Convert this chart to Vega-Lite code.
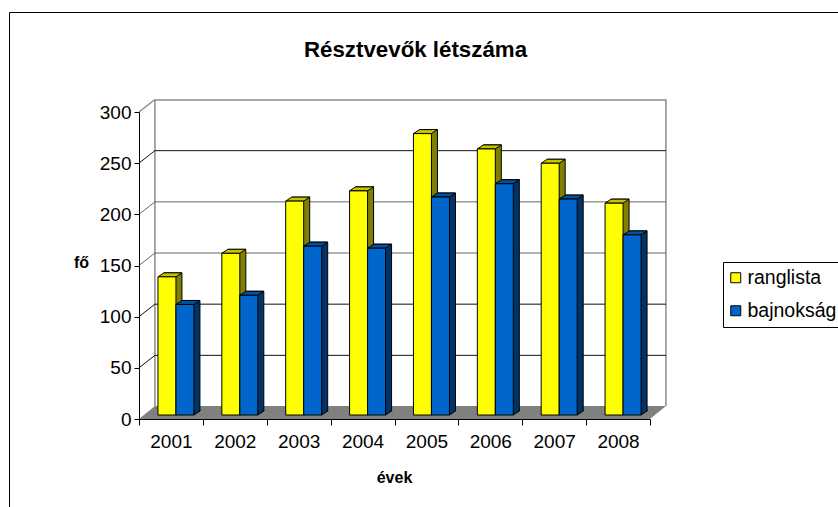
{
"$schema":"https://vega.github.io/schema/vega-lite/v6.json",
"width":829,"height":495,
"padding":{"left":9,"top":12,"right":0,"bottom":0},
"autosize":{"type":"none"},
"background":"white",
"view":{"stroke":"black","strokeWidth":1,"fill":"white"},
"title":{"text":"Résztvevők létszáma","font":"Liberation Sans","fontSize":22.3,"fontWeight":"bold","color":"black","anchor":"middle","dx":-8,"offset":-49},
"datasets":{
"bars":[
{"year":"2001","series":"ranglista","v":135},{"year":"2002","series":"ranglista","v":158},{"year":"2003","series":"ranglista","v":209},{"year":"2004","series":"ranglista","v":219},{"year":"2005","series":"ranglista","v":275},{"year":"2006","series":"ranglista","v":260},{"year":"2007","series":"ranglista","v":246},{"year":"2008","series":"ranglista","v":207},
{"year":"2001","series":"bajnokság","v":108},{"year":"2002","series":"bajnokság","v":117},{"year":"2003","series":"bajnokság","v":165},{"year":"2004","series":"bajnokság","v":163},{"year":"2005","series":"bajnokság","v":213},{"year":"2006","series":"bajnokság","v":226},{"year":"2007","series":"bajnokság","v":211},{"year":"2008","series":"bajnokság","v":176}
],
"grid":[{"year":"2001","v":50},{"year":"2001","v":100},{"year":"2001","v":150},{"year":"2001","v":200},{"year":"2001","v":250},{"year":"2001","v":300}],
"floor":[{"year":"2001","v":0}]
},
"data":{"name":"bars"},
"encoding":{
"x":{"field":"year","type":"nominal","scale":{"type":"band","domain":["2001","2002","2003","2004","2005","2006","2007","2008"],"range":[130,641],"paddingInner":0,"paddingOuter":0},
"axis":{"title":"évek","titleFont":"Liberation Sans","titleFontSize":16,"titleFontWeight":"bold","titleColor":"black","titleX":385,"titleY":58,"titleBaseline":"middle","labelFont":"Liberation Sans","labelFontSize":19,"labelColor":"black","labelAngle":0,"labelPadding":7,"domainColor":"black","tickColor":"black","tickSize":6,"tickBand":"extent","offset":-88,"zindex":1,"grid":false}},
"y":{"field":"v","type":"quantitative","stack":null,"scale":{"domain":[0,300],"range":[407,100],"nice":false},
"axis":{"title":"fő","titleFont":"Liberation Sans","titleFontSize":16,"titleFontWeight":"bold","titleColor":"black","titleAngle":0,"titleX":-58,"titleY":250,"titleAlign":"center","titleBaseline":"middle","labelFont":"Liberation Sans","labelFontSize":19,"labelColor":"black","labelPadding":3,"values":[0,50,100,150,200,250,300],"domainColor":"black","tickColor":"black","tickSize":5,"offset":-130,"zindex":1,"grid":false}}
},
"layer":[
{"data":{"name":"floor"},"mark":{"type":"point","shape":"M-32 0 L-16 -13 H495 L479 0 Z","size":4,"filled":true,"fill":"#808080","stroke":"#808080","strokeWidth":0,"opacity":1}},
{"data":{"name":"floor"},"mark":{"type":"point","shape":"M-16 -13 V-319 H495 V-13","size":4,"filled":false,"fill":"transparent","stroke":"#8c8c8c","strokeWidth":1.5,"opacity":1}},
{"data":{"name":"grid"},"transform":[{"filter":"datum.v<300"}],"mark":{"type":"point","shape":"M-32 0 L-16 -12.5 H495","size":4,"filled":false,"fill":"transparent","strokeWidth":1,"opacity":1},
 "encoding":{"stroke":{"condition":{"test":"datum.v==150||datum.v==200","value":"#666666"},"value":"#111111"}}},
{"data":{"name":"grid"},"transform":[{"filter":"datum.v==300"}],"mark":{"type":"point","shape":"M-32 0 L-16 -12.5","size":4,"filled":false,"fill":"transparent","stroke":"#8c8c8c","strokeWidth":1.5,"opacity":1}},

{"transform":[{"filter":"datum.series=='ranglista'"}],"mark":{"type":"bar","width":18,"xOffset":2,"yOffset":-8,"y2Offset":-8,"fill":"#808000","stroke":"black","strokeWidth":1},"encoding":{"y2":{"datum":0}}},
{"transform":[{"filter":"datum.series=='ranglista'"}],"mark":{"type":"point","shape":"M5 -9 L5 -4 L11 -8 L11 -9","size":4,"filled":true,"fill":"#808000","stroke":"black","strokeWidth":1,"opacity":1},"encoding":{"y":{"datum":0}}},
{"transform":[{"filter":"datum.series=='ranglista'"}],"mark":{"type":"point","shape":"M-13 -4 H5 L11 -8 H-7 Z","size":4,"filled":true,"fill":"#c4c400","stroke":"black","strokeWidth":1,"opacity":1}},
{"transform":[{"filter":"datum.series=='ranglista'"}],"mark":{"type":"bar","width":18,"xOffset":-4,"yOffset":-4,"y2Offset":-4,"stroke":"black","strokeWidth":1},
 "encoding":{"y2":{"datum":0},"color":{"field":"series","type":"nominal","scale":{"domain":["ranglista","bajnokság"],"range":["#ffff00","#0066cc"]},
 "legend":{"title":null,"orient":"none","legendX":714,"legendY":250,"padding":6,"strokeColor":"black","fillColor":"white","symbolType":"square","symbolSize":100,"symbolStrokeColor":"black","symbolStrokeWidth":1,"symbolOffset":-3,"labelFont":"Liberation Sans","labelFontSize":19.5,"labelColor":"black","rowPadding":12,"labelOffset":2,"labelLimit":300}}}},

{"transform":[{"filter":"datum.series=='bajnokság'"}],"mark":{"type":"bar","width":18,"xOffset":20,"yOffset":-8,"y2Offset":-8,"fill":"#003366","stroke":"black","strokeWidth":1},"encoding":{"y2":{"datum":0}}},
{"transform":[{"filter":"datum.series=='bajnokság'"}],"mark":{"type":"point","shape":"M23 -9 L23 -4 L29 -8 L29 -9","size":4,"filled":true,"fill":"#003366","stroke":"black","strokeWidth":1,"opacity":1},"encoding":{"y":{"datum":0}}},
{"transform":[{"filter":"datum.series=='bajnokság'"}],"mark":{"type":"point","shape":"M5 -4 H23 L29 -8 H11 Z","size":4,"filled":true,"fill":"#0051a3","stroke":"black","strokeWidth":1,"opacity":1}},
{"transform":[{"filter":"datum.series=='bajnokság'"}],"mark":{"type":"bar","width":18,"xOffset":14,"yOffset":-4,"y2Offset":-4,"stroke":"black","strokeWidth":1},
 "encoding":{"y2":{"datum":0},"color":{"field":"series","type":"nominal","scale":{"domain":["ranglista","bajnokság"],"range":["#ffff00","#0066cc"]},"legend":null}}}
]
}
